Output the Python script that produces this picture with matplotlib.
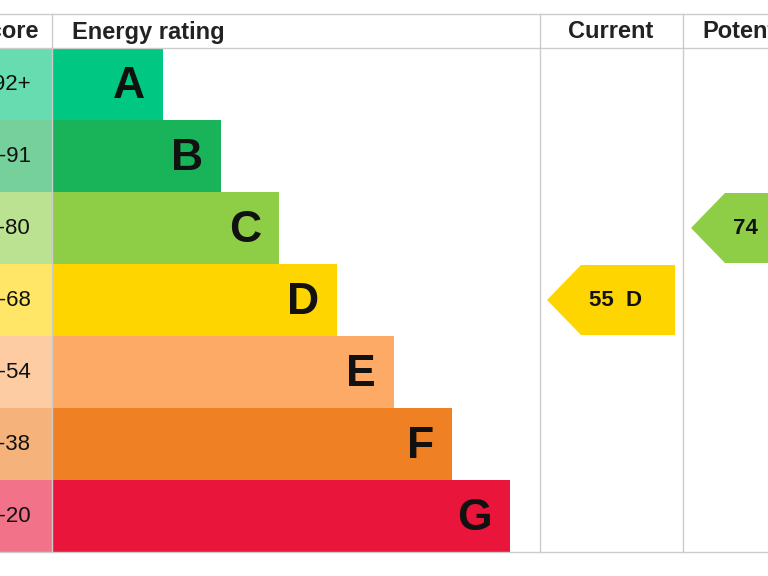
import matplotlib.pyplot as plt
from matplotlib.patches import Polygon

plt.rcParams['font.family'] = ['Liberation Sans', 'DejaVu Sans']

bands = ["A", "B", "C", "D", "E", "F", "G"]
score_labels = ["92+", "81-91", "69-80", "55-68", "39-54", "21-38", "1-20"]
bar_right = [163, 221, 279, 337, 394, 452, 510]
colors = ["#00c781", "#19b459", "#8dce46", "#ffd500", "#fcaa65", "#ef8023", "#e9153b"]
light = ["#66dcb0", "#75d09b", "#bbe290", "#ffe666", "#fdcca3", "#f5b37b", "#f27389"]
current_value, current_band = 55, "D"
potential_value, potential_band = 74, "C"

fig = plt.figure(figsize=(7.68, 5.76), dpi=100)
ax = fig.add_axes([0, 0, 1, 1])
ax.set_xlim(0, 768); ax.set_ylim(576, 0); ax.axis("off")

top, head, rowh = 14, 48, 72
x0, xc, xp = 52, 540, 683
for i, b in enumerate(bands):
    y = head + i * rowh
    ax.barh(y + rowh / 2, x0, left=0, height=rowh, color=light[i], edgecolor="none")
    ax.barh(y + rowh / 2, bar_right[i] - x0, left=x0, height=rowh, color=colors[i], edgecolor="none")
    ax.text(bar_right[i] - 18, y + rowh / 2 + 2, b, ha="right", va="center",
            fontsize=32, fontweight="bold", color="#111")
    ax.text(31, y + rowh / 2, score_labels[i], ha="right", va="center", fontsize=16, color="#111")

bottom = head + 7 * rowh
lc = "#cccccc"
for yy in (top, head, bottom):
    ax.plot([0, 768], [yy, yy], color=lc, lw=1)
for xx in (x0, xc, xp):
    ax.plot([xx, xx], [top, bottom], color=lc, lw=1)

ax.text(39, 32, "Score", ha="right", va="center", fontsize=17, fontweight="bold", color="#222")
ax.text(72, 32, "Energy rating", ha="left", va="center", fontsize=17, fontweight="bold", color="#222")
ax.text(611, 32, "Current", ha="center", va="center", fontsize=17, fontweight="bold", color="#222")
ax.text(702, 32, "Potential", ha="left", va="center", fontsize=17, fontweight="bold", color="#222")

def arrow(xl, xr, band, val):
    i = bands.index(band)
    y1 = head + i * rowh + 1; y2 = y1 + rowh - 2; ym = (y1 + y2) / 2
    ax.add_patch(Polygon([(xl, ym), (xl + 34, y1), (xr, y1), (xr, y2), (xl + 34, y2)],
                         closed=True, color=colors[i], lw=0))
    ax.text(xl + 42, ym, f"{val}  {band}", ha="left", va="center", fontsize=16,
            fontweight="bold", color="#111")

arrow(547, 675, current_band, current_value)
arrow(691, 820, potential_band, potential_value)

fig.savefig("out.png", dpi=100)
